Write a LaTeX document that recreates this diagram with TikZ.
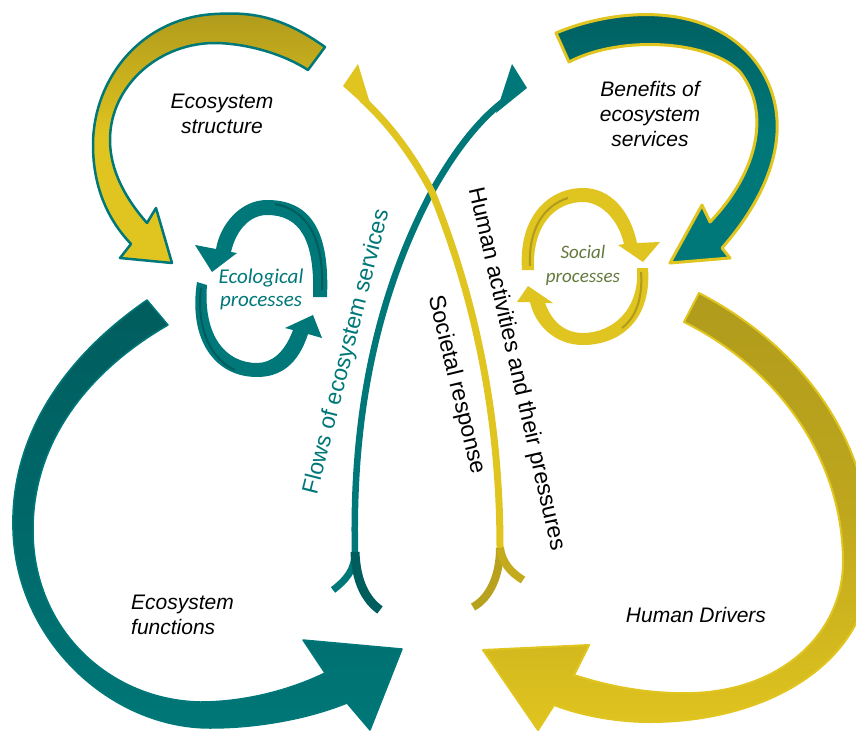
\documentclass[tikz,border=0pt]{standalone}
\usepackage{fontspec}
\setmainfont{Liberation Sans}
\newfontfamily\calfont{Carlito}
\definecolor{eteal}{HTML}{007778}
\definecolor{dteal}{HTML}{005D5E}
\definecolor{eyel}{HTML}{E0C41F}
\definecolor{olive}{HTML}{B09B1C}
\definecolor{soctext}{HTML}{64783C}
\begin{document}
\begin{tikzpicture}[x=1pt,y=-1pt,line join=round,
  bigtext/.style={font=\fontsize{21}{25}\selectfont\itshape, align=center, text=black, inner sep=0pt},
  proctext/.style={font=\calfont\fontsize{21}{23}\selectfont\itshape, align=center, inner sep=0pt},
  sidetext/.style={font=\fontsize{23}{26}\selectfont, inner sep=0pt},
  thinline/.style={line width=6.5pt, line cap=butt},
  prong/.style={line width=8pt, line cap=butt}]
\useasboundingbox (0,0) rectangle (856,733);
\clip (0,0) rectangle (856,733);

% ecosystem structure loop (top left)
\shadedraw[top color=olive, bottom color=eyel, middle color=eyel, draw=eteal, line width=2.5pt]
  (325,47) .. controls (280,15) and (250,12) .. (215,14)
  .. controls (140,18) and (93,80) .. (93,145)
  .. controls (93,190) and (110,222) .. (131,244)
  -- (120,258) -- (172,263) -- (156,208) -- (147,223)
  .. controls (125,198) and (110,170) .. (110,140)
  .. controls (110,85) and (160,42) .. (217,43)
  .. controls (250,44) and (285,55) .. (308,70) -- cycle;

% benefits loop (top right)
\shadedraw[top color=dteal, bottom color=eteal, middle color=eteal, draw=eyel, line width=3pt]
  (556,33) .. controls (610,10) and (700,0) .. (750,55)
  .. controls (790,100) and (790,170) .. (722,248)
  -- (730,258) -- (670,263) -- (702,205) -- (710,222)
  .. controls (760,170) and (770,110) .. (740,72)
  .. controls (710,40) and (620,35) .. (569,62) -- cycle;

% ecosystem functions loop (bottom left)
\shadedraw[top color=dteal, bottom color=eteal, middle color=dteal!60!eteal, draw=eteal, line width=1.5pt]
  (147,300) .. controls (60,360) and (10,440) .. (13,530)
  .. controls (16,640) and (110,728) .. (210,728)
  .. controls (260,728) and (310,718) .. (347,703)
  -- (370,730) -- (402,649) -- (303,640) -- (325,673)
  .. controls (290,690) and (245,702) .. (200,702)
  .. controls (110,700) and (33,630) .. (33,530)
  .. controls (33,440) and (90,370) .. (168,325) -- cycle;

% human drivers loop (bottom right), running past the right edge
\shadedraw[top color=olive, bottom color=eyel, middle color=olive!70!eyel, draw=eyel, line width=2pt]
  (699,293) .. controls (790,340) and (872,430) .. (872,560)
  .. controls (870,665) and (765,722) .. (650,722)
  .. controls (615,722) and (580,715) .. (554,705)
  -- (538,730) -- (483,650) -- (589,645) -- (574,675)
  .. controls (620,690) and (660,694) .. (693,693)
  .. controls (785,690) and (844,630) .. (843,560)
  .. controls (842,460) and (780,370) .. (684,322) -- cycle;

% ecological processes cycle
\fill[eteal] (327,297) .. controls (330,230) and (310,200) .. (267,200)
  .. controls (240,200) and (220,225) .. (216,249)
  -- (195,245) -- (212,272) -- (237,253) -- (231,252)
  .. controls (236,230) and (250,215) .. (267,215)
  .. controls (300,215) and (315,240) .. (313,297) -- cycle;
\draw[dteal, line width=2pt] (322,290) .. controls (324,240) and (308,210) .. (275,204);
\fill[eteal] (197,282) .. controls (188,340) and (215,377) .. (257,377)
  .. controls (280,377) and (298,365) .. (308,334)
  -- (322,338) -- (313,315) -- (285,328) -- (293,330)
  .. controls (285,352) and (272,363) .. (257,363)
  .. controls (225,363) and (203,335) .. (207,285) -- cycle;
\draw[dteal, line width=2pt] (201,288) .. controls (196,330) and (212,360) .. (235,370);

% social processes cycle
\fill[eyel] (522,270) .. controls (518,215) and (550,188) .. (583,188)
  .. controls (610,188) and (630,210) .. (637,243)
  -- (660,242) -- (643,262) -- (618,245) -- (624,244)
  .. controls (618,218) and (600,202) .. (583,202)
  .. controls (555,202) and (532,225) .. (534,270) -- cycle;
\draw[olive, line width=2pt] (530,266) .. controls (528,228) and (545,205) .. (568,198);
\fill[eyel] (648,268) .. controls (652,320) and (620,345) .. (583,345)
  .. controls (555,345) and (535,325) .. (530,302)
  -- (517,302) -- (528,286) -- (553,303) -- (545,303)
  .. controls (552,322) and (565,333) .. (583,333)
  .. controls (612,333) and (640,310) .. (637,268) -- cycle;
\draw[olive, line width=2pt] (641,272) .. controls (643,300) and (635,318) .. (622,328);

% flows of ecosystem services
\coordinate (fbase) at (355,552);
\coordinate (fend) at (508,98);
\draw[eteal, thinline] (fbase) .. controls (352,420) and (375,300) .. (430,195)
  .. controls (455,150) and (480,118) .. (fend);
\fill[eteal] (512,64) -- (527,88) -- (496,113) -- cycle;
\draw[eteal, prong, line width=7pt] (fbase) .. controls (355,570) and (346,580) .. (333,590);
\draw[dteal, prong, line width=9pt] (fbase) .. controls (356,582) and (366,600) .. (380,610);

% human activities / societal response
\coordinate (ybase) at (500,548);
\coordinate (yend) at (362,99);
\draw[eyel, thinline, line width=7pt] (ybase) .. controls (500,430) and (480,310) .. (432,192)
  .. controls (410,150) and (385,120) .. (yend);
\fill[eyel] (358,64) -- (343,86) -- (373,113) -- cycle;
\draw[olive!85!eyel, prong] (ybase) .. controls (500,575) and (490,598) .. (473,607);
\draw[olive!60!eyel, prong] (ybase) .. controls (502,562) and (510,572) .. (523,580);

% labels
\node[bigtext] (tstruct) at (222,114) {Ecosystem\\structure};
\node[bigtext] (tbenef) at (650,114) {Benefits of\\ecosystem\\services};
\node[bigtext, align=left, anchor=west] (tfunc) at (131,615) {Ecosystem\\functions};
\node[bigtext] (tdrive) at (696,615) {Human Drivers};
\node[proctext, text=eteal] (teco) at (261,289) {Ecological\\processes};
\node[proctext, text=soctext, font=\calfont\fontsize{19}{24}\selectfont\itshape] (tsoc) at (583,265) {Social\\processes};
\node[sidetext, text=eteal, rotate=75.8] (tflow) at (347,352) {Flows of ecosystem services};
\node[sidetext, rotate=-77.1] (thuman) at (516,369) {Human activities and their pressures};
\node[sidetext, rotate=-76.3] (tsoci) at (456,385) {Societal response};
\end{tikzpicture}
\end{document}
